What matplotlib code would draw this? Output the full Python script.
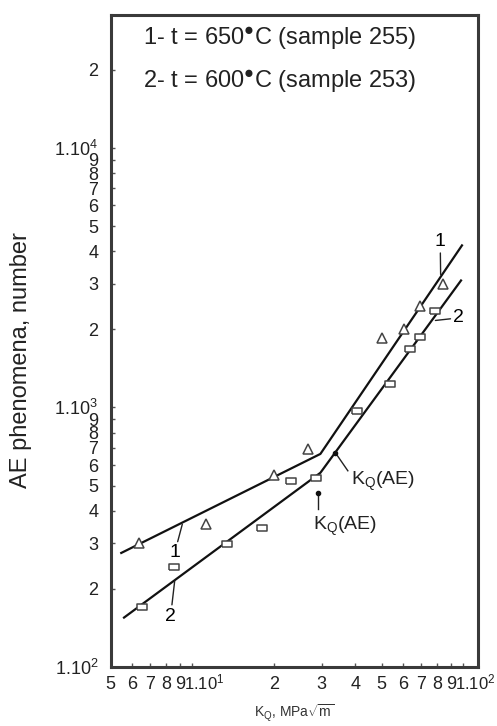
import numpy as np
import matplotlib
matplotlib.use("Agg")
import matplotlib.pyplot as plt
from matplotlib.ticker import FixedLocator, FixedFormatter
from matplotlib.transforms import ScaledTranslation

plt.rcParams['font.family'] = ['Liberation Sans', 'DejaVu Sans']
plt.rcParams['mathtext.fontset'] = 'custom'
plt.rcParams['mathtext.rm'] = 'Liberation Sans'
plt.rcParams['mathtext.it'] = 'Liberation Sans:italic'
plt.rcParams['mathtext.bf'] = 'Liberation Sans:bold'

# measured points (K_Q in MPa*sqrt(m), number of AE events)
k1 = [6.35, 11.2, 20.1, 26.7, 50.1, 60.3, 69.4, 84.1]
n1 = [300, 357, 550, 690, 1850, 2010, 2450, 2990]
k2 = [6.55, 8.55, 13.4, 18.1, 23.2, 28.7, 40.6, 53.8, 63.8, 69.4, 78.9]
n2 = [171, 243, 298, 342, 521, 537, 970, 1230, 1680, 1875, 2360]

# broken-line fits
fit1_k = [5.47, 29.7, 98.9]
fit1_n = [275, 662, 4210]
fit2_k = [5.6, 29.7, 98.1]
fit2_n = [155, 560, 3084]

legend_lines = ["1- t = 650$^{\u25CF}$C (sample 255)",
                "2- t = 600$^{\u25CF}$C (sample 253)"]

x_major = [10, 100]
x_major_labels = [r"1.10$^1$", r"1.10$^2$"]
x_minor = [5, 6, 7, 8, 9, 20, 30, 40, 50, 60, 70, 80, 90]
x_minor_labels = [str(v) for v in [5, 6, 7, 8, 9, 2, 3, 4, 5, 6, 7, 8, 9]]

y_major = [100, 1000, 10000]
y_major_labels = [r"1.10$^2$", r"1.10$^3$", r"1.10$^4$"]
y_minor = [200, 300, 400, 500, 600, 700, 800, 900,
           2000, 3000, 4000, 5000, 6000, 7000, 8000, 9000, 20000]
y_minor_labels = [str(v) for v in [2, 3, 4, 5, 6, 7, 8, 9,
                                   2, 3, 4, 5, 6, 7, 8, 9, 2]]

fig = plt.figure(figsize=(4.97, 7.26), dpi=100)
ax = fig.add_axes([0.2227, 0.0813, 0.7384, 0.898])
ax.set_xscale('log')
ax.set_yscale('log')
ax.set_xlim(5.0, 113)
ax.set_ylim(100, 32500)

ax.plot(fit1_k, fit1_n, color='#111111', lw=1.6, zorder=2)
ax.plot(fit2_k, fit2_n, color='#111111', lw=1.6, zorder=2)
ax.plot(k1, n1, ls='none', marker='^', ms=7, mfc='white', mec='#444444',
        mew=1.1, zorder=3)
rect = [(-1, -0.6), (1, -0.6), (1, 0.6), (-1, 0.6), (-1, -0.6)]
ax.plot(k2, n2, ls='none', marker=rect, ms=7.5, mfc='white', mec='#444444',
        mew=1.1, zorder=3)

# ticks
ax.xaxis.set_major_locator(FixedLocator(x_major))
ax.xaxis.set_major_formatter(FixedFormatter(x_major_labels))
ax.xaxis.set_minor_locator(FixedLocator(x_minor))
ax.xaxis.set_minor_formatter(FixedFormatter(x_minor_labels))
ax.yaxis.set_major_locator(FixedLocator(y_major))
ax.yaxis.set_major_formatter(FixedFormatter(y_major_labels))
ax.yaxis.set_minor_locator(FixedLocator(y_minor))
ax.yaxis.set_minor_formatter(FixedFormatter(y_minor_labels))

ax.tick_params(which='both', direction='in', length=3, width=1,
               color='#555555', labelsize=13, labelcolor='#222222')
ax.tick_params(axis='y', which='both', pad=9)
ax.tick_params(axis='x', which='both', pad=16)

for lab in ax.get_xticklabels(which='both'):
    lab.set_va('baseline')
shift = ScaledTranslation(-0.08, 0, fig.dpi_scale_trans)
for lab in ax.get_xticklabels(which='major'):
    lab.set_ha('left')
    lab.set_fontsize(12)
    lab.set_transform(lab.get_transform() + shift)

for s in ax.spines.values():
    s.set_linewidth(2.2)
    s.set_color('#3a3a3a')

# axis labels
ax.set_ylabel("AE phenomena, number", fontsize=17, color='#222222',
              va='center')
ax.yaxis.set_label_coords(-0.245, 0.471)
ax.set_xlabel(r"K$_{\rm Q}$, MPa$\sqrt{\rm m}$", fontsize=10,
              color='#333333', va='center')
ax.xaxis.set_label_coords(0.5, -0.071)

# legend text
ax.text(0.088, 0.963, legend_lines[0], transform=ax.transAxes,
        fontsize=17, va='center', ha='left', color='#222222')
ax.text(0.088, 0.897, legend_lines[1], transform=ax.transAxes,
        fontsize=17, va='center', ha='left', color='#222222')

# curve labels with leader lines
lead = dict(arrowstyle='-', color='#222222', lw=1.0, shrinkA=0, shrinkB=0)
ax.annotate('1', xy=(9.19, 355), xytext=(8.61, 275), fontsize=14,
            ha='center', va='center', arrowprops=lead)
ax.annotate('2', xy=(8.61, 214), xytext=(8.32, 157), fontsize=14,
            ha='center', va='center', arrowprops=lead)
ax.annotate('1', xy=(82.5, 3250), xytext=(82.2, 4350), fontsize=14,
            ha='center', va='center', arrowprops=lead)
ax.annotate('2', xy=(78.9, 2163), xytext=(96.2, 2213), fontsize=14,
            ha='center', va='center', arrowprops=lead)

# K_Q(AE) markers
ax.plot([29.0, 29.0], [407, 470], color='#222222', lw=1.0)
ax.plot([29.0], [470], 'o', color='#111111', ms=3)
ax.text(36.7, 349, r"K$_{\rm Q}$(AE)", fontsize=14, ha='center',
        va='center', color='#222222')
ax.plot([33.7, 37.5], [670, 570], color='#222222', lw=1.0)
ax.plot([33.7], [670], 'o', color='#111111', ms=3)
ax.text(50.7, 521, r"K$_{\rm Q}$(AE)", fontsize=14, ha='center',
        va='center', color='#222222')

fig.savefig('out.png', dpi=100)
